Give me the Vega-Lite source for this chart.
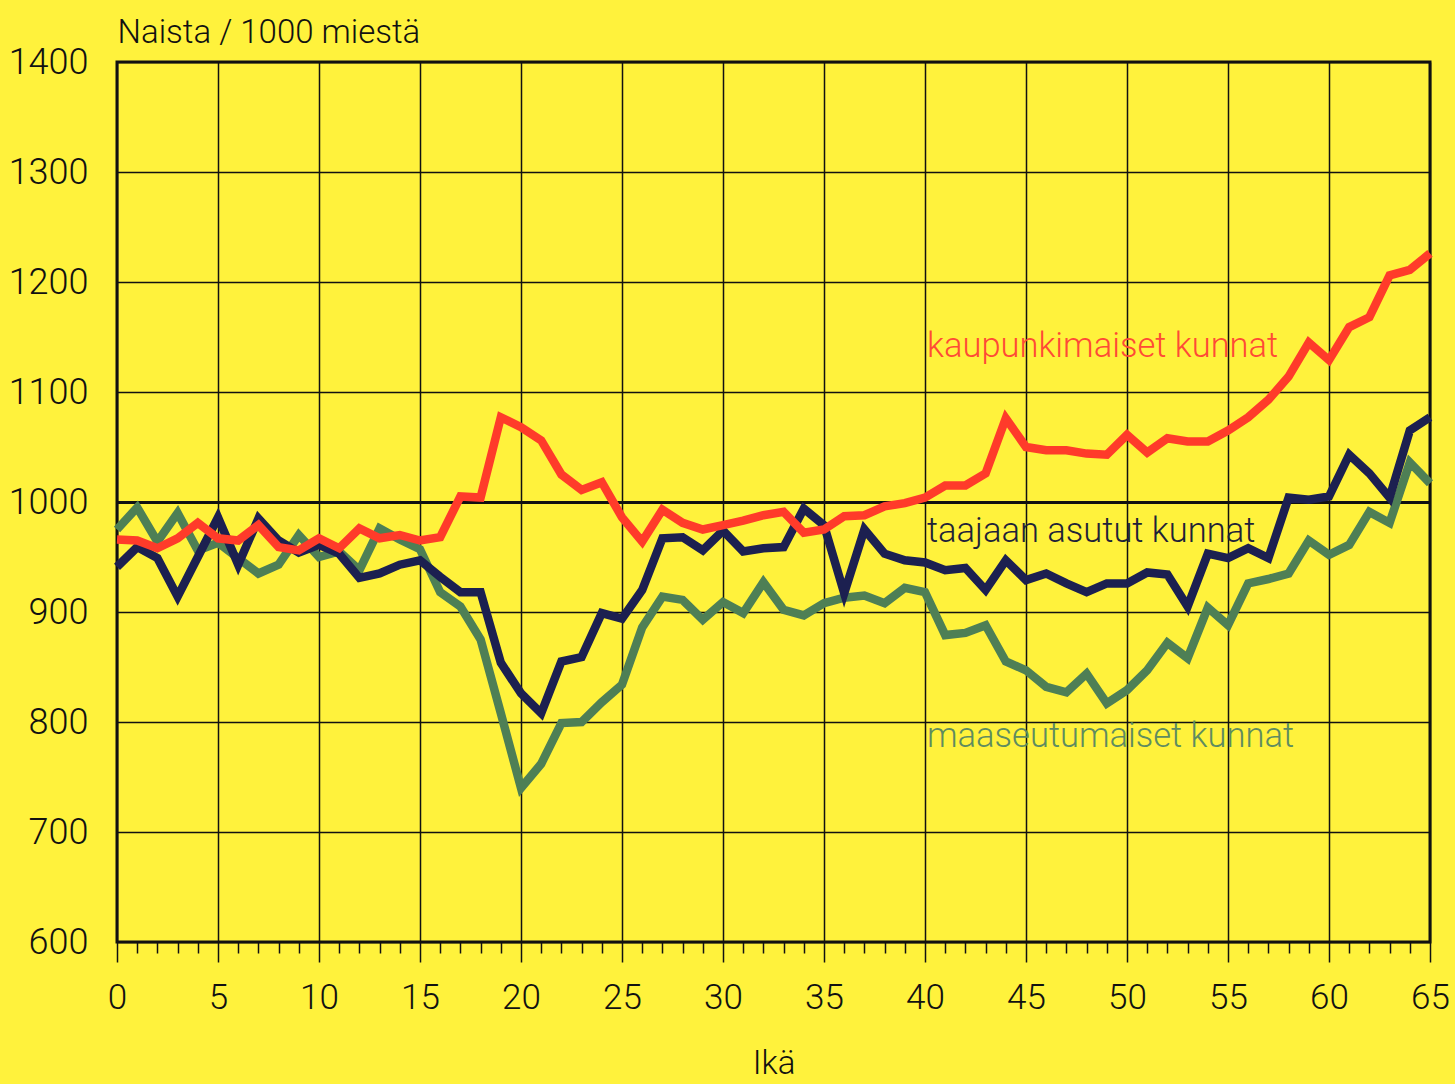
{
  "$schema": "https://vega.github.io/schema/vega-lite/v6.json",
  "autosize": "none",
  "width": 1313,
  "height": 880,
  "padding": {"left": 117, "top": 62, "right": 25, "bottom": 142},
  "background": "#FFF23C",
  "config": {
    "font": "Roboto",
    "view": {"stroke": "#111111", "strokeWidth": 3},
    "axis": {"labelFontWeight": 300, "titleFontWeight": 300}
  },
  "datasets": {
    "series": [
      {"age":0,"k":966,"t":941,"m":975},
      {"age":1,"k":965,"t":959,"m":995},
      {"age":2,"k":958,"t":949,"m":964},
      {"age":3,"k":967,"t":914,"m":990},
      {"age":4,"k":981,"t":950,"m":956},
      {"age":5,"k":967,"t":986,"m":963},
      {"age":6,"k":965,"t":943,"m":949},
      {"age":7,"k":979,"t":985,"m":935},
      {"age":8,"k":959,"t":965,"m":943},
      {"age":9,"k":956,"t":954,"m":970},
      {"age":10,"k":967,"t":961,"m":950},
      {"age":11,"k":958,"t":953,"m":955},
      {"age":12,"k":976,"t":931,"m":938},
      {"age":13,"k":967,"t":935,"m":976},
      {"age":14,"k":970,"t":943,"m":966},
      {"age":15,"k":965,"t":947,"m":957},
      {"age":16,"k":968,"t":932,"m":918},
      {"age":17,"k":1005,"t":918,"m":905},
      {"age":18,"k":1004,"t":918,"m":875},
      {"age":19,"k":1077,"t":854,"m":808},
      {"age":20,"k":1068,"t":826,"m":740},
      {"age":21,"k":1056,"t":808,"m":762},
      {"age":22,"k":1025,"t":855,"m":799},
      {"age":23,"k":1011,"t":859,"m":800},
      {"age":24,"k":1018,"t":899,"m":818},
      {"age":25,"k":986,"t":894,"m":834},
      {"age":26,"k":964,"t":920,"m":886},
      {"age":27,"k":993,"t":967,"m":914},
      {"age":28,"k":981,"t":968,"m":911},
      {"age":29,"k":975,"t":956,"m":893},
      {"age":30,"k":979,"t":974,"m":909},
      {"age":31,"k":983,"t":955,"m":899},
      {"age":32,"k":988,"t":958,"m":927},
      {"age":33,"k":991,"t":959,"m":902},
      {"age":34,"k":972,"t":994,"m":897},
      {"age":35,"k":975,"t":979,"m":908},
      {"age":36,"k":987,"t":917,"m":913},
      {"age":37,"k":988,"t":975,"m":915},
      {"age":38,"k":996,"t":953,"m":908},
      {"age":39,"k":999,"t":947,"m":922},
      {"age":40,"k":1004,"t":945,"m":918},
      {"age":41,"k":1015,"t":938,"m":879},
      {"age":42,"k":1015,"t":940,"m":881},
      {"age":43,"k":1026,"t":920,"m":888},
      {"age":44,"k":1076,"t":947,"m":855},
      {"age":45,"k":1050,"t":929,"m":847},
      {"age":46,"k":1047,"t":935,"m":832},
      {"age":47,"k":1047,"t":926,"m":827},
      {"age":48,"k":1044,"t":918,"m":844},
      {"age":49,"k":1043,"t":926,"m":817},
      {"age":50,"k":1061,"t":926,"m":829},
      {"age":51,"k":1045,"t":936,"m":847},
      {"age":52,"k":1058,"t":934,"m":872},
      {"age":53,"k":1055,"t":905,"m":858},
      {"age":54,"k":1055,"t":953,"m":904},
      {"age":55,"k":1065,"t":949,"m":888},
      {"age":56,"k":1077,"t":958,"m":926},
      {"age":57,"k":1093,"t":949,"m":930},
      {"age":58,"k":1114,"t":1004,"m":935},
      {"age":59,"k":1145,"t":1002,"m":965},
      {"age":60,"k":1129,"t":1005,"m":952},
      {"age":61,"k":1159,"t":1043,"m":961},
      {"age":62,"k":1168,"t":1026,"m":991},
      {"age":63,"k":1206,"t":1004,"m":981},
      {"age":64,"k":1211,"t":1065,"m":1036},
      {"age":65,"k":1226,"t":1077,"m":1017}
    ],
    "labels": [
      {"age":40.1,"value":1132,"label":"kaupunkimaiset kunnat","group":"k"},
      {"age":40.1,"value":964,"label":"taajaan asutut kunnat","group":"t"},
      {"age":40.1,"value":777,"label":"maaseutumaiset kunnat","group":"m"}
    ]
  },
  "data": {"name": "series"},
  "encoding": {
    "x": {
      "field": "age", "type": "quantitative",
      "scale": {"domain": [0, 65], "nice": false, "zero": false},
      "axis": {
        "values": [0,1,2,3,4,5,6,7,8,9,10,11,12,13,14,15,16,17,18,19,20,21,22,23,24,25,26,27,28,29,30,31,32,33,34,35,36,37,38,39,40,41,42,43,44,45,46,47,48,49,50,51,52,53,54,55,56,57,58,59,60,61,62,63,64,65],
        "domain": false,
        "grid": true,
        "gridColor": "#111111",
        "gridWidth": 1.5,
        "gridOpacity": {"condition": {"test": "datum.value % 5 === 0", "value": 1}, "value": 0},
        "ticks": true,
        "tickColor": "#111111",
        "tickWidth": 1.5,
        "tickSize": {"condition": {"test": "datum.value % 5 === 0", "value": 20}, "value": 11},
        "labelExpr": "datum.value % 5 === 0 ? datum.label : ''",
        "labelOverlap": false,
        "labelFlush": false,
        "labelFontSize": 35,
        "labelColor": "#111111",
        "labelPadding": 18,
        "title": "Ikä",
        "titleFontSize": 33,
        "titleColor": "#111111",
        "titlePadding": 32
      }
    }
  },
  "layer": [
    {
      "mark": {"type": "line", "color": "#4E7F55", "strokeWidth": 8.5},
      "encoding": {
        "y": {
          "field": "m", "type": "quantitative",
          "scale": {"domain": [600, 1400], "nice": false, "zero": false},
          "axis": {
            "values": [600,700,800,900,1000,1100,1200,1300,1400],
            "format": "d",
            "domain": false,
            "ticks": false,
            "grid": true,
            "gridColor": "#111111",
            "gridWidth": {"condition": {"test": "datum.value === 1000", "value": 3}, "value": 1.5},
            "labelFlush": false,
            "labelFontSize": 36,
            "labelColor": "#111111",
            "labelPadding": 29,
            "title": "Naista / 1000 miestä",
            "titleAngle": 0,
            "titleAlign": "left",
            "titleBaseline": "middle",
            "titleX": 0,
            "titleY": -30,
            "titleFontSize": 33,
            "titleColor": "#111111"
          }
        }
      }
    },
    {
      "mark": {"type": "line", "color": "#1C2050", "strokeWidth": 8.5},
      "encoding": {"y": {"field": "t", "type": "quantitative"}}
    },
    {
      "mark": {"type": "line", "color": "#FF3B2A", "strokeWidth": 8.5},
      "encoding": {"y": {"field": "k", "type": "quantitative"}}
    },
    {
      "data": {"name": "labels"},
      "mark": {"type": "text", "align": "left", "baseline": "alphabetic", "fontSize": 34.5, "fontWeight": 300},
      "encoding": {
        "y": {"field": "value", "type": "quantitative"},
        "text": {"field": "label"},
        "color": {
          "field": "group", "type": "nominal",
          "scale": {"domain": ["k", "t", "m"], "range": ["#FF4A36", "#1E2238", "#5E8C60"]},
          "legend": null
        }
      }
    }
  ]
}
